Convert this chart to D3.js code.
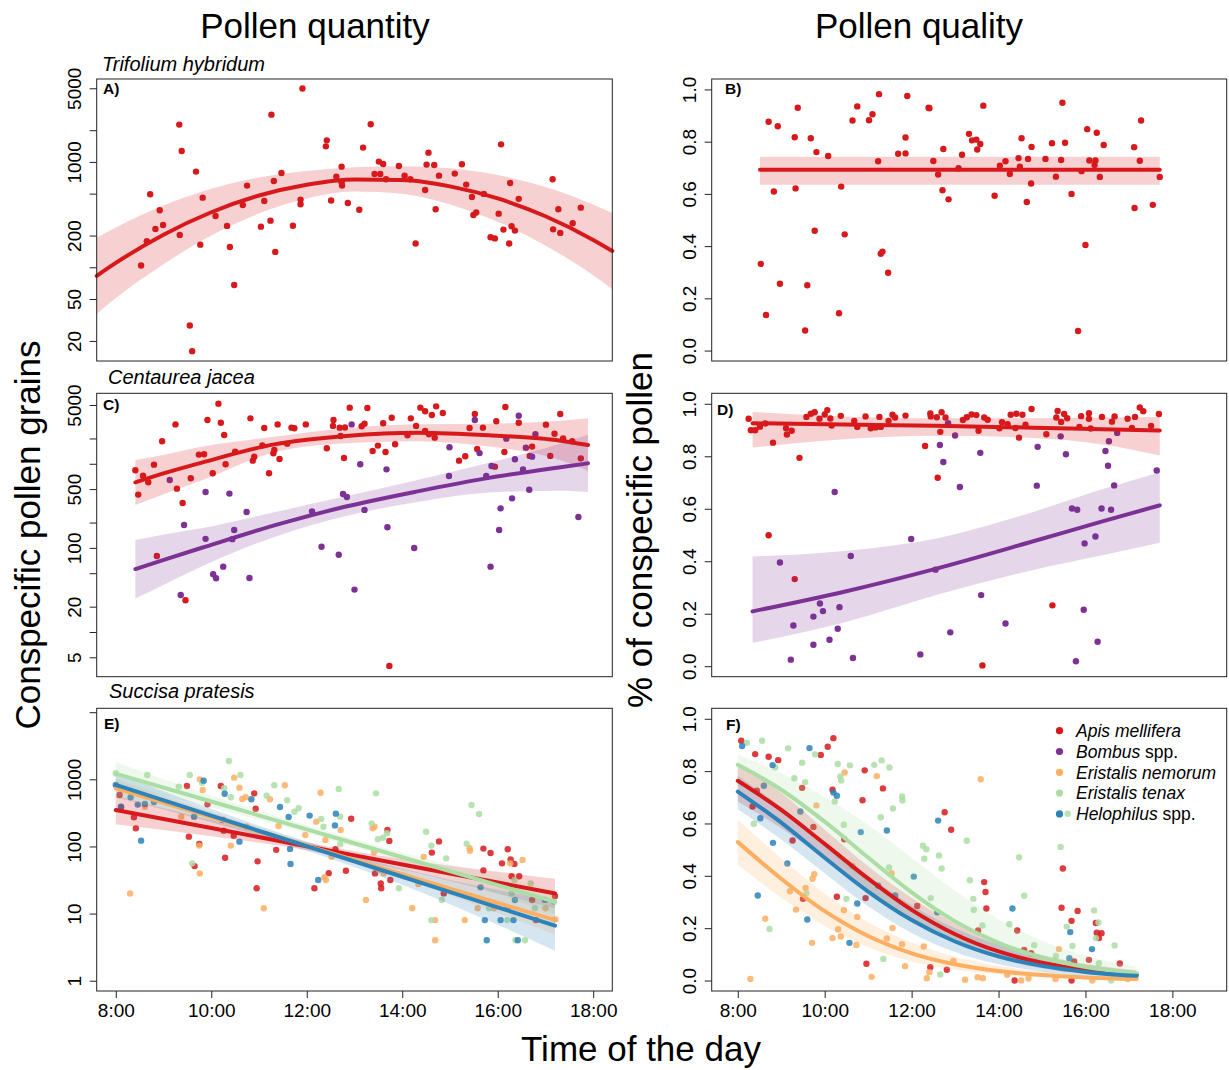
<!DOCTYPE html>
<html>
<head>
<meta charset="utf-8">
<script src="https://cdn.jsdelivr.net/npm/d3@7"></script>
<style>
  body { margin: 0; background: #fff; }
  svg text { font-family: "Liberation Sans", Arial, Helvetica, sans-serif; fill: #000; }
</style>
</head>
<body>
<svg id="chart" width="1229" height="1070"></svg>
<script>
// ---- species / colours ----
const species = ['Apis mellifera', 'Bombus spp.', 'Eristalis nemorum', 'Eristalis tenax', 'Helophilus spp.'];
const speciesColors = ['#d7191c', '#7b3294', '#fdae61', '#abdda4', '#2b83ba'];

// ---- A) Trifolium hybridum, pollen quantity (Apis) ----
const hoursA = [8.53, 8.65, 8.72, 8.83, 8.92, 8.99, 9.33, 9.34, 9.38, 9.55, 9.60, 9.68, 9.77, 9.82, 10.09, 10.33, 10.39, 10.48, 10.66, 10.75, 11.04, 11.11, 11.24, 11.26, 11.31, 11.34, 11.47, 11.71, 11.87, 11.87, 11.91, 12.40, 12.42, 12.51, 12.62, 12.73, 12.74, 12.73, 12.86, 13.10, 13.18, 13.34, 13.42, 13.51, 13.54, 13.60, 13.66, 13.93, 14.05, 14.17, 14.28, 14.48, 14.51, 14.55, 14.67, 14.70, 14.77, 15.10, 15.25, 15.34, 15.46, 15.49, 15.55, 15.71, 15.85, 15.94, 16.02, 16.07, 16.12, 16.24, 16.26, 16.29, 16.36, 16.44, 17.15, 17.16, 17.27, 17.31, 17.57, 17.74];
const pollenA = [104, 177, 493, 231, 348, 252, 2260, 203, 1270, 28, 16, 809, 164, 458, 307, 247, 156, 68, 390, 596, 243, 426, 277, 2810, 659, 140, 786, 248, 439, 396, 4980, 1406, 1603, 430, 726, 902, 596, 637, 408, 352, 1368, 2275, 769, 1007, 769, 957, 684, 916, 741, 684, 168, 542, 943, 1225, 935, 355, 741, 775, 950, 609, 465, 314, 331, 497, 193, 188, 323, 1469, 228, 168, 631, 245, 223, 446, 684, 229, 355, 212, 262, 368];
const fitHoursA = [7.6, 8, 9, 10, 11, 12, 13, 14, 15, 16, 17, 18, 18.4];
const fitA = [83, 110, 204, 333, 480, 608, 682, 673, 586, 450, 305, 182, 143];
const fitLoA = [36, 51, 107, 200, 324, 450, 524, 498, 395, 270, 161, 84, 62];
const fitHiA = [191, 239, 386, 555, 711, 822, 889, 910, 869, 750, 578, 394, 327];

// ---- B) Trifolium hybridum, pollen quality (Apis) ----
const hoursB = [8.53, 8.65, 8.71, 8.83, 8.92, 8.97, 9.31, 9.33, 9.38, 9.55, 9.60, 9.68, 9.77, 9.81, 10.08, 10.33, 10.38, 10.46, 10.64, 10.75, 11.02, 11.10, 11.23, 11.25, 11.29, 11.33, 11.46, 11.69, 11.86, 11.86, 11.90, 12.39, 12.41, 12.50, 12.61, 12.71, 12.73, 12.85, 13.08, 13.16, 13.32, 13.39, 13.49, 13.51, 13.58, 13.65, 13.91, 14.03, 14.16, 14.26, 14.46, 14.49, 14.53, 14.65, 14.68, 14.75, 14.76, 15.08, 15.23, 15.32, 15.44, 15.47, 15.53, 15.68, 15.83, 15.91, 16.00, 16.04, 16.09, 16.21, 16.23, 16.26, 16.33, 16.42, 17.12, 17.13, 17.25, 17.28, 17.55, 17.71];
const qualB = [0.332, 0.136, 0.876, 0.609, 0.859, 0.256, 0.817, 0.621, 0.930, 0.077, 0.250, 0.813, 0.459, 0.760, 0.745, 0.143, 0.628, 0.445, 0.881, 0.935, 0.882, 0.905, 0.725, 0.982, 0.371, 0.379, 0.298, 0.754, 0.816, 0.755, 0.975, 0.930, 0.928, 0.726, 0.674, 0.614, 0.772, 0.579, 0.698, 0.750, 0.830, 0.805, 0.808, 0.770, 0.791, 0.938, 0.593, 0.708, 0.725, 0.676, 0.737, 0.704, 0.813, 0.569, 0.734, 0.640, 0.780, 0.734, 0.794, 0.666, 0.730, 0.949, 0.796, 0.600, 0.075, 0.687, 0.404, 0.848, 0.728, 0.711, 0.728, 0.834, 0.665, 0.787, 0.779, 0.546, 0.727, 0.881, 0.558, 0.665];
const fitHoursB = [8.51, 17.71];
const fitB = [0.692, 0.692];
const fitLoB = [0.635, 0.635];
const fitHiB = [0.742, 0.742];

// ---- C) Centaurea jacea, pollen quantity ----
const hoursCApis = [8.41, 8.47, 8.57, 8.68, 8.80, 8.97, 9.25, 9.28, 9.40, 9.46, 9.57, 9.74, 9.85, 9.92, 10.03, 10.15, 10.20, 10.27, 10.30, 10.50, 8.86, 10.82, 10.87, 10.90, 11.07, 11.11, 11.21, 11.30, 11.32, 11.39, 11.43, 11.59, 11.68, 11.74, 11.98, 12.42, 12.55, 12.56, 12.69, 12.71, 12.78, 12.80, 12.90, 13.15, 13.21, 13.27, 13.38, 13.49, 13.60, 13.65, 13.73, 13.78, 13.85, 14.11, 14.18, 14.29, 14.38, 14.48, 14.48, 14.56, 14.62, 14.68, 14.71, 14.85, 15.19, 15.32, 15.41, 15.52, 15.57, 15.69, 15.94, 15.97, 16.14, 16.16, 16.44, 16.67, 16.72, 17.01, 17.10, 17.19, 17.31, 17.37, 17.56, 17.74];
const pollenCApis = [836, 430, 722, 603, 977, 1850, 2940, 506, 342, 23.8, 672, 1285, 1296, 3320, 771, 5190, 3080, 2200, 986, 1390, 80, 3470, 1090, 1215, 1657, 2665, 771, 1330, 1460, 2940, 1140, 1735, 2690, 2640, 2940, 1530, 2820, 3320, 2690, 2140, 1170, 2700, 4650, 2790, 3000, 4600, 1420, 1645, 3030, 1380, 3.95, 3530, 1705, 2180, 3470, 2820, 4650, 2455, 4210, 2240, 3800, 2045, 4820, 4020, 1090, 1227, 2665, 3910, 1500, 2690, 925, 3200, 1380, 4730, 3080, 1240, 1600, 2920, 1240, 2280, 3910, 2000, 1850, 1160];
const hoursCBombus = [9.13, 9.36, 9.43, 9.88, 9.88, 10.04, 10.10, 10.25, 10.38, 10.44, 10.48, 10.74, 10.80, 12.11, 12.31, 12.67, 12.76, 12.84, 12.94, 13.00, 13.12, 13.21, 13.67, 13.69, 14.25, 14.98, 14.99, 15.52, 15.62, 15.76, 15.85, 15.87, 16.03, 16.06, 16.18, 16.30, 16.36, 16.44, 16.53, 16.59, 16.66, 16.72, 16.79, 17.69];
const pollenCBombus = [641, 27.5, 187, 462, 128, 48.5, 43.5, 59.8, 442, 127, 163, 267, 43.8, 272, 103, 83, 437, 403, 2940, 31.9, 986, 283, 859, 176, 99.8, 716, 1570, 3320, 1340, 716, 59.8, 942, 163, 295, 1990, 388, 1130, 3730, 859, 1555, 492, 1215, 2240, 233];
const fitHoursC = [8.41, 9.07, 9.82, 11.32, 12.82, 14.32, 15.82, 17.32, 17.89];
const fitCApis = [602, 790, 1040, 1700, 2140, 2340, 2180, 1880, 1670];
const fitLoCApis = [324, 450, 640, 1370, 1750, 1850, 1600, 1100, 820];
const fitHiCApis = [1110, 1300, 1600, 2100, 2650, 2950, 3000, 3250, 3470];
const fitCBombus = [56, 74, 101, 185, 310, 470, 680, 912, 1012];
const fitLoCBombus = [25, 38, 61, 135, 240, 352, 455, 479, 462];
const fitHiCBombus = [124, 146, 172, 265, 410, 640, 1030, 1738, 2213];

// ---- D) Centaurea jacea, pollen quality ----
const hoursDApis = [8.25, 8.30, 8.40, 8.51, 8.63, 8.71, 8.81, 9.11, 9.13, 9.24, 9.31, 9.42, 9.58, 9.68, 9.77, 9.88, 10.00, 10.06, 10.13, 10.16, 10.37, 10.68, 10.75, 10.94, 11.06, 11.17, 11.26, 11.29, 11.47, 11.56, 11.62, 11.86, 12.31, 12.43, 12.44, 12.58, 12.60, 12.66, 12.69, 12.78, 13.18, 13.27, 13.38, 13.49, 13.54, 13.63, 13.67, 13.75, 14.02, 14.08, 14.21, 14.28, 14.41, 14.39, 14.47, 14.55, 14.62, 14.76, 15.10, 15.24, 15.33, 15.36, 15.44, 15.51, 15.58, 15.86, 15.90, 16.08, 16.08, 16.12, 16.38, 16.61, 16.67, 16.97, 17.07, 17.14, 17.25, 17.33, 17.51, 17.69];
const qualDApis = [0.943, 0.899, 0.899, 0.913, 0.925, 0.499, 0.852, 0.907, 0.883, 0.897, 0.332, 0.794, 0.950, 0.962, 0.968, 0.943, 0.959, 0.976, 0.944, 0.917, 0.954, 0.935, 0.912, 0.952, 0.907, 0.910, 0.950, 0.912, 0.935, 0.958, 0.948, 0.955, 0.839, 0.963, 0.952, 0.949, 0.718, 0.893, 0.968, 0.948, 0.938, 0.949, 0.959, 0.957, 0.897, 0.003, 0.948, 0.939, 0.907, 0.930, 0.922, 0.958, 0.962, 0.908, 0.871, 0.958, 0.920, 0.980, 0.884, 0.232, 0.948, 0.973, 0.931, 0.961, 0.945, 0.912, 0.953, 0.964, 0.943, 0.906, 0.950, 0.932, 0.952, 0.943, 0.908, 0.950, 0.986, 0.972, 0.916, 0.961];
const hoursDBombus = [8.97, 9.22, 9.28, 9.74, 9.74, 9.89, 9.96, 10.11, 10.23, 10.30, 10.34, 10.60, 10.65, 11.99, 12.20, 12.55, 12.65, 12.73, 12.84, 12.89, 13.00, 13.11, 13.58, 13.60, 14.16, 14.88, 14.90, 15.43, 15.55, 15.69, 15.81, 15.78, 15.96, 15.98, 16.23, 16.28, 16.37, 16.46, 16.52, 16.54, 16.59, 16.66, 16.73, 17.64];
const qualDBombus = [0.395, 0.025, 0.155, 0.189, 0.082, 0.239, 0.210, 0.101, 0.664, 0.143, 0.225, 0.420, 0.031, 0.485, 0.045, 0.368, 0.843, 0.778, 0.926, 0.129, 0.879, 0.683, 0.813, 0.271, 0.163, 0.688, 0.836, 0.876, 0.808, 0.601, 0.596, 0.019, 0.215, 0.468, 0.494, 0.093, 0.601, 0.820, 0.764, 0.857, 0.596, 0.689, 0.889, 0.746];
const fitHoursD = [8.34, 10.45, 12.55, 14.8, 16.39, 17.71];
const fitDApis = [0.926, 0.921, 0.916, 0.909, 0.903, 0.898];
const fitLoDApis = [0.833, 0.865, 0.878, 0.870, 0.845, 0.803];
const fitHiDApis = [0.969, 0.952, 0.945, 0.945, 0.948, 0.950];
const fitDBombus = [0.209, 0.284, 0.371, 0.476, 0.552, 0.613];
const fitLoDBombus = [0.089, 0.167, 0.270, 0.367, 0.423, 0.470];
const fitHiDBombus = [0.418, 0.439, 0.486, 0.588, 0.674, 0.739];

// ---- E) Succisa pratesis, pollen quantity ----
const hoursEApis = [8.08, 8.11, 8.38, 8.42, 9.49, 9.53, 9.65, 9.75, 9.92, 10.20, 10.24, 10.26, 10.29, 10.47, 10.90, 10.93, 10.97, 10.95, 11.36, 12.16, 12.46, 12.60, 12.79, 12.82, 12.93, 13.43, 13.55, 13.56, 13.69, 13.73, 13.75, 14.62, 14.77, 14.87, 15.70, 15.70, 15.85, 16.09, 16.21, 16.27, 16.29, 16.35, 16.45, 16.72, 16.80, 17.20];
const pollenEApis = [585, 383, 272, 186, 796, 140, 51, 109, 424, 796, 248, 172, 68, 145, 618, 365, 60, 23.8, 89, 23.8, 40, 91, 70, 43.5, 259, 39.7, 28, 23.8, 176, 121, 31.6, 81, 119, 20, 93, 44, 80, 56, 91, 64, 36, 55, 36, 15.9, 8, 18.3];
const hoursENem = [8.30, 8.61, 9.37, 9.76, 9.82, 9.76, 9.75, 10.41, 10.48, 10.59, 10.65, 10.72, 10.74, 11.10, 11.23, 11.41, 11.54, 11.77, 11.97, 12.20, 12.29, 12.37, 12.40, 12.39, 12.52, 12.71, 13.24, 13.38, 13.42, 13.41, 13.52, 13.61, 14.21, 14.34, 14.45, 14.69, 14.69, 15.31, 15.41, 15.42, 15.58, 15.92, 16.26, 16.52, 17.00, 17.21];
const pollenENem = [20, 392, 278, 1000, 693, 39.7, 103, 103, 1060, 752, 509, 540, 197, 12, 504, 202, 815, 111, 148, 234, 632, 34.7, 31.6, 125, 70, 176, 15.9, 186, 197, 82, 44.6, 39.7, 12, 27.5, 70, 8, 4, 8, 94, 86, 12, 12, 56, 63, 12, 8.2];
const hoursETen = [8.00, 8.66, 9.32, 9.55, 9.60, 9.81, 10.27, 10.37, 10.41, 10.61, 11.16, 11.32, 11.59, 11.74, 11.83, 12.30, 12.35, 12.67, 12.70, 12.70, 13.36, 13.45, 13.49, 13.60, 13.68, 13.93, 14.29, 14.50, 14.61, 14.61, 14.83, 14.92, 15.35, 15.45, 15.61, 15.82, 16.20, 16.29, 16.35, 16.37, 16.57, 16.69, 16.78, 17.18];
const pollenETen = [1230, 1160, 778, 1160, 56, 891, 735, 1875, 540, 1160, 571, 815, 487, 330, 370, 257, 197, 718, 278, 108, 221, 618, 128, 135, 157, 23.8, 31.6, 166, 103, 8, 15.9, 66.5, 110, 415, 304, 12, 8, 20, 31.6, 4, 4, 28, 12, 14.9];
const hoursEHel = [8.00, 8.11, 8.31, 8.46, 8.53, 8.61, 8.80, 9.64, 9.84, 10.28, 10.59, 10.84, 11.44, 11.62, 11.65, 11.66, 12.06, 12.24, 12.61, 12.59, 15.73, 15.77, 15.64, 16.06, 16.33, 16.36, 16.42, 16.20, 16.99];
const pollenEHel = [823, 392, 540, 420, 122, 429, 459, 278, 955, 611, 118, 504, 387, 275, 92, 55, 288, 31.6, 308, 206, 8, 4, 24.6, 8, 8, 15.9, 4, 12, 16];
const fitHoursE = [8, 10, 12, 14, 16, 17.2];
const fitEApis = [349, 188, 101, 54, 29, 20];
const fitLoEApis = [215, 142, 88, 45, 20, 12];
const fitHiEApis = [566, 247, 116, 65, 42, 33];
const fitENem = [735, 275, 103, 38.5, 14.4, 8.0];
const fitLoENem = [532, 229, 92, 33, 10.2, 4.9];
const fitHiENem = [1014, 330, 116, 45, 20.4, 13];
const fitETen = [1213, 467, 180, 69, 26.6, 15];
const fitLoETen = [820, 379, 157, 59, 19.7, 9.9];
const fitHiETen = [1795, 574, 207, 81, 36, 22.7];
const fitEHel = [824, 288, 101, 35.4, 12.4, 6.6];
const fitLoEHel = [545, 229, 86, 26.9, 6.8, 2.8];
const fitHiEHel = [1247, 363, 119, 47, 22.6, 15.5];

// ---- F) Succisa pratesis, pollen quality ----
const hoursFApis = [8.08, 8.40, 8.71, 8.93, 8.34, 8.44, 9.26, 9.48, 9.50, 9.74, 9.91, 10.07, 10.20, 10.18, 10.28, 10.45, 10.87, 10.92, 10.94, 10.96, 11.34, 12.13, 12.43, 12.76, 12.81, 12.91, 13.53, 13.67, 13.70, 13.72, 14.37, 14.43, 14.59, 14.75, 15.45, 15.48, 15.68, 15.68, 15.74, 15.82, 16.08, 16.24, 16.26, 16.31, 16.37, 16.79];
const qualFApis = [0.916, 0.865, 0.855, 0.842, 0.665, 0.725, 0.535, 0.736, 0.312, 0.587, 0.862, 0.893, 0.926, 0.729, 0.320, 0.540, 0.689, 0.803, 0.315, 0.064, 0.734, 0.285, 0.051, 0.643, 0.041, 0.576, 0.191, 0.376, 0.338, 0.275, 0.000, 0.191, 0.117, 0.104, 0.278, 0.428, 0.228, 0.000, 0.073, 0.266, 0.079, 0.220, 0.183, 0.162, 0.181, 0.065];
const hoursFNem = [8.29, 8.63, 9.20, 9.34, 9.56, 9.71, 9.72, 9.76, 9.81, 10.18, 10.31, 10.37, 10.44, 10.46, 10.64, 10.73, 10.75, 11.08, 11.20, 11.43, 11.54, 11.56, 11.78, 11.85, 12.28, 12.35, 12.41, 12.96, 13.23, 13.52, 13.59, 13.64, 14.20, 14.52, 14.69, 15.39, 15.31, 16.16, 16.97];
const qualFNem = [0.006, 0.236, 0.341, 0.271, 0.354, 0.144, 0.389, 0.406, 0.669, 0.162, 0.196, 0.168, 0.269, 0.795, 0.438, 0.136, 0.243, 0.014, 0.781, 0.161, 0.410, 0.201, 0.139, 0.055, 0.130, 0.009, 0.032, 0.075, 0.003, 0.013, 0.769, 0.009, 0.022, 0.000, 0.008, 0.120, 0.006, 0.000, 0.006];
const hoursFTen = [8.21, 8.56, 8.86, 9.16, 9.30, 9.48, 9.55, 8.37, 8.73, 9.58, 9.78, 10.23, 10.30, 10.36, 10.38, 10.44, 10.58, 10.50, 11.14, 11.31, 11.49, 11.29, 11.48, 11.57, 11.78, 11.79, 11.35, 12.26, 12.34, 12.29, 12.44, 12.63, 12.69, 12.66, 13.27, 13.34, 13.42, 13.43, 13.63, 14.47, 14.59, 14.25, 14.82, 15.43, 15.59, 15.57, 15.70, 16.20, 16.30, 16.24, 16.67, 15.32, 16.59, 16.31];
const qualFTen = [0.908, 0.916, 0.815, 0.887, 0.773, 0.832, 0.758, 0.599, 0.197, 0.334, 0.864, 0.684, 0.827, 0.780, 0.764, 0.595, 0.822, 0.312, 0.824, 0.841, 0.814, 0.624, 0.432, 0.657, 0.703, 0.688, 0.082, 0.515, 0.502, 0.465, 0.315, 0.478, 0.428, 0.023, 0.534, 0.383, 0.312, 0.270, 0.210, 0.471, 0.324, 0.215, 0.135, 0.510, 0.637, 0.206, 0.132, 0.268, 0.222, 0.162, 0.134, 0.094, 0.000, 0.066];
const hoursFHel = [8.10, 8.80, 8.60, 8.52, 9.44, 8.81, 8.46, 9.14, 9.65, 9.60, 10.20, 10.28, 10.57, 10.83, 10.75, 11.23, 11.43, 11.62, 12.05, 12.61, 12.59, 14.32, 15.65, 16.15, 15.63];
const qualFHel = [0.896, 0.823, 0.744, 0.620, 0.646, 0.526, 0.325, 0.447, 0.888, 0.233, 0.718, 0.706, 0.144, 0.567, 0.294, 0.362, 0.573, 0.325, 0.397, 0.611, 0.261, 0.275, 0.185, 0.120, 0.085];
const fitHoursF = [8, 9, 10, 11, 12, 13, 14, 15, 16, 17.18];
const fitFApis = [0.763, 0.652, 0.522, 0.389, 0.270, 0.177, 0.111, 0.068, 0.041, 0.022];
const fitLoFApis = [0.684, 0.582, 0.467, 0.342, 0.229, 0.142, 0.083, 0.047, 0.026, 0.012];
const fitHiFApis = [0.828, 0.717, 0.576, 0.437, 0.316, 0.218, 0.147, 0.098, 0.064, 0.038];
const fitFNem = [0.529, 0.389, 0.265, 0.170, 0.104, 0.062, 0.036, 0.021, 0.012, 0.006];
const fitLoFNem = [0.442, 0.316, 0.208, 0.127, 0.073, 0.041, 0.023, 0.013, 0.007, 0.003];
const fitHiFNem = [0.614, 0.467, 0.332, 0.223, 0.145, 0.091, 0.056, 0.034, 0.020, 0.011];
const fitFTen = [0.824, 0.729, 0.607, 0.470, 0.337, 0.226, 0.144, 0.088, 0.052, 0.028];
const fitLoFTen = [0.776, 0.655, 0.504, 0.350, 0.227, 0.141, 0.084, 0.049, 0.028, 0.015];
const fitHiFTen = [0.863, 0.792, 0.701, 0.594, 0.469, 0.343, 0.234, 0.152, 0.095, 0.053];
const fitFHel = [0.722, 0.603, 0.469, 0.340, 0.231, 0.149, 0.092, 0.056, 0.033, 0.018];
const fitLoFHel = [0.654, 0.539, 0.410, 0.284, 0.182, 0.109, 0.062, 0.034, 0.019, 0.009];
const fitHiFHel = [0.782, 0.663, 0.529, 0.400, 0.288, 0.200, 0.137, 0.091, 0.059, 0.036];

// ---- axis ticks ----
const ticksA = [20, 50, 100, 200, 500, 1000, 2000, 5000];
const labelsA = ['20', '50', '', '200', '', '1000', '', '5000'];
const ticksC = [5, 10, 20, 50, 100, 200, 500, 1000, 2000, 5000];
const labelsC = ['5', '', '20', '', '100', '', '500', '', '', '5000'];
const ticksE = [1, 10, 100, 1000, 10000];
const labelsE = ['1', '10', '100', '1000', ''];
const ticksQual = [0, 0.2, 0.4, 0.6, 0.8, 1.0];
const labelsQual = ['0.0', '0.2', '0.4', '0.6', '0.8', '1.0'];
const ticksHour = [8, 10, 12, 14, 16, 18];
const labelsHour = ['8:00', '10:00', '12:00', '14:00', '16:00', '18:00'];

// ---- layout ----
const svg = d3.select('#chart');
const cols = [
  { x0: 96.7, x1: 612.3, dom: [7.6, 18.4] },
  { x0: 711.7, x1: 1226.7, dom: [7.4, 19.25] },
];
const rows = [
  { y0: 79, y1: 361 },
  { y0: 393.3, y1: 676.7 },
  { y0: 708.3, y1: 991 },
];

const zipPts = (hs, vs) => hs.map((h, i) => ({ h, v: vs[i] })).filter(d => d.v != null);
const zipFit = (hs, m, lo, hi) => hs.map((h, i) => ({ h, m: m[i], lo: lo[i], hi: hi[i] }));

function drawPanel(p) {
  const col = cols[p.col], row = rows[p.row];
  const x = d3.scaleLinear().domain(col.dom).range([col.x0, col.x1]);
  const y = (p.log ? d3.scaleLog() : d3.scaleLinear()).domain(p.yDom).range([row.y1, row.y0]);
  const g = svg.append('g');
  const ptOpacity = p.ptOpacity || 1;

  // points
  p.series.forEach(s => {
    g.append('g')
      .selectAll('circle')
      .data(zipPts(s.hours, s.vals))
      .join('circle')
      .attr('cx', d => x(d.h))
      .attr('cy', d => y(d.v))
      .attr('r', 3.2)
      .attr('fill', s.color)
      .attr('fill-opacity', ptOpacity);
  });

  // confidence bands
  p.fits.forEach(f => {
    const area = d3.area().curve(d3.curveMonotoneX)
      .x(d => x(d.h)).y0(d => y(d.lo)).y1(d => y(d.hi));
    g.append('path')
      .datum(zipFit(f.hours, f.mid, f.lo, f.hi))
      .attr('d', area)
      .attr('fill', f.color)
      .attr('fill-opacity', 0.2);
  });

  // fitted lines
  p.fits.forEach(f => {
    const line = d3.line().curve(d3.curveMonotoneX).x(d => x(d.h)).y(d => y(d.m));
    g.append('path')
      .datum(zipFit(f.hours, f.mid, f.lo, f.hi))
      .attr('d', line)
      .attr('fill', 'none')
      .attr('stroke', f.color)
      .attr('stroke-width', 4)
      .attr('stroke-linecap', 'round');
  });

  // box
  g.append('rect')
    .attr('x', col.x0).attr('y', row.y0)
    .attr('width', col.x1 - col.x0).attr('height', row.y1 - row.y0)
    .attr('fill', 'none').attr('stroke', '#222').attr('stroke-width', 1);

  // y axis, labels turned parallel to the axis
  const yAx = g.append('g')
    .attr('transform', `translate(${col.x0},0)`)
    .call(d3.axisLeft(y).tickValues(p.yTicks).tickSize(7)
      .tickFormat((d, i) => p.yLabels[i]));
  yAx.select('.domain').remove();
  yAx.selectAll('line').attr('stroke', '#222');
  yAx.selectAll('text')
    .attr('x', null).attr('dy', null)
    .attr('transform', 'rotate(-90)')
    .attr('y', -15.5)
    .attr('text-anchor', 'middle')
    .style('font-size', '19px');

  if (p.xAxis) {
    const xAx = g.append('g')
      .attr('transform', `translate(0,${row.y1})`)
      .call(d3.axisBottom(x).tickValues(ticksHour).tickSize(7).tickPadding(6)
        .tickFormat((d, i) => labelsHour[i]));
    xAx.select('.domain').remove();
    xAx.selectAll('line').attr('stroke', '#222');
    xAx.selectAll('text').style('font-size', '19px');
  }

  // panel letter
  g.append('text')
    .attr('x', p.lx).attr('y', p.ly)
    .style('font-size', '15.5px').style('font-weight', 'bold')
    .text(p.label);
}

const c = speciesColors;
drawPanel({
  col: 0, row: 0, log: true, yDom: [12.9, 6124], yTicks: ticksA, yLabels: labelsA,
  series: [{ hours: hoursA, vals: pollenA, color: c[0] }],
  fits: [{ hours: fitHoursA, mid: fitA, lo: fitLoA, hi: fitHiA, color: c[0] }],
  label: 'A)', lx: 103, ly: 94,
});
drawPanel({
  col: 1, row: 0, log: false, yDom: [-0.04, 1.04], yTicks: ticksQual, yLabels: labelsQual,
  series: [{ hours: hoursB, vals: qualB, color: c[0] }],
  fits: [{ hours: fitHoursB, mid: fitB, lo: fitLoB, hi: fitHiB, color: c[0] }],
  label: 'B)', lx: 725, ly: 94,
});
drawPanel({
  col: 0, row: 1, log: true, yDom: [2.94, 6887], yTicks: ticksC, yLabels: labelsC,
  series: [
    { hours: hoursCApis, vals: pollenCApis, color: c[0] },
    { hours: hoursCBombus, vals: pollenCBombus, color: c[1] },
  ],
  fits: [
    { hours: fitHoursC, mid: fitCApis, lo: fitLoCApis, hi: fitHiCApis, color: c[0] },
    { hours: fitHoursC, mid: fitCBombus, lo: fitLoCBombus, hi: fitHiCBombus, color: c[1] },
  ],
  label: 'C)', lx: 103, ly: 410,
});
drawPanel({
  col: 1, row: 1, log: false, yDom: [-0.04, 1.04], yTicks: ticksQual, yLabels: labelsQual,
  series: [
    { hours: hoursDApis, vals: qualDApis, color: c[0] },
    { hours: hoursDBombus, vals: qualDBombus, color: c[1] },
  ],
  fits: [
    { hours: fitHoursD, mid: fitDApis, lo: fitLoDApis, hi: fitHiDApis, color: c[0] },
    { hours: fitHoursD, mid: fitDBombus, lo: fitLoDBombus, hi: fitHiDBombus, color: c[1] },
  ],
  label: 'D)', lx: 717, ly: 415,
});
drawPanel({
  col: 0, row: 2, log: true, yDom: [0.703, 11429], yTicks: ticksE, yLabels: labelsE, xAxis: true,
  ptOpacity: 0.85,
  series: [
    { hours: hoursEApis, vals: pollenEApis, color: c[0] },
    { hours: hoursENem, vals: pollenENem, color: c[2] },
    { hours: hoursETen, vals: pollenETen, color: c[3] },
    { hours: hoursEHel, vals: pollenEHel, color: c[4] },
  ],
  fits: [
    { hours: fitHoursE, mid: fitEApis, lo: fitLoEApis, hi: fitHiEApis, color: c[0] },
    { hours: fitHoursE, mid: fitENem, lo: fitLoENem, hi: fitHiENem, color: c[2] },
    { hours: fitHoursE, mid: fitETen, lo: fitLoETen, hi: fitHiETen, color: c[3] },
    { hours: fitHoursE, mid: fitEHel, lo: fitLoEHel, hi: fitHiEHel, color: c[4] },
  ],
  label: 'E)', lx: 104, ly: 729,
});
drawPanel({
  col: 1, row: 2, log: false, yDom: [-0.04, 1.04], yTicks: ticksQual, yLabels: labelsQual, xAxis: true,
  ptOpacity: 0.85,
  series: [
    { hours: hoursFApis, vals: qualFApis, color: c[0] },
    { hours: hoursFNem, vals: qualFNem, color: c[2] },
    { hours: hoursFTen, vals: qualFTen, color: c[3] },
    { hours: hoursFHel, vals: qualFHel, color: c[4] },
  ],
  fits: [
    { hours: fitHoursF, mid: fitFApis, lo: fitLoFApis, hi: fitHiFApis, color: c[0] },
    { hours: fitHoursF, mid: fitFNem, lo: fitLoFNem, hi: fitHiFNem, color: c[2] },
    { hours: fitHoursF, mid: fitFTen, lo: fitLoFTen, hi: fitHiFTen, color: c[3] },
    { hours: fitHoursF, mid: fitFHel, lo: fitLoFHel, hi: fitHiFHel, color: c[4] },
  ],
  label: 'F)', lx: 726, ly: 730,
});

// legend (panel F)
const leg = svg.append('g');
species.forEach((name, i) => {
  const yy = 730.7 + i * 20.8;
  leg.append('circle').attr('cx', 1059.5).attr('cy', yy).attr('r', 3.6).attr('fill', speciesColors[i]);
  const parts = name.split(' ');
  const t = leg.append('text').attr('x', 1076).attr('y', yy + 6.3).style('font-size', '17.5px');
  if (parts[1] === 'spp.') {
    t.append('tspan').style('font-style', 'italic').text(parts[0]);
    t.append('tspan').text(' spp.');
  } else {
    t.style('font-style', 'italic').text(name);
  }
});

// titles
const big = '35px';
svg.append('text').attr('x', 315).attr('y', 38).attr('text-anchor', 'middle').style('font-size', big).text('Pollen quantity');
svg.append('text').attr('x', 919).attr('y', 38).attr('text-anchor', 'middle').style('font-size', big).text('Pollen quality');
svg.append('text').attr('x', 641).attr('y', 1061).attr('text-anchor', 'middle').style('font-size', big).text('Time of the day');
svg.append('text').attr('transform', 'translate(40,535) rotate(-90)').attr('text-anchor', 'middle').style('font-size', big).text('Conspecific pollen grains');
svg.append('text').attr('transform', 'translate(652,530) rotate(-90)').attr('text-anchor', 'middle').style('font-size', big).text('% of conspecific pollen');

const plantTitles = [
  { name: 'Trifolium hybridum', x: 102, y: 71 },
  { name: 'Centaurea jacea', x: 108, y: 384 },
  { name: 'Succisa pratesis', x: 109, y: 698 },
];
plantTitles.forEach(t => {
  svg.append('text').attr('x', t.x).attr('y', t.y)
    .style('font-size', '20px').style('font-style', 'italic').text(t.name);
});
</script>
</body>
</html>
